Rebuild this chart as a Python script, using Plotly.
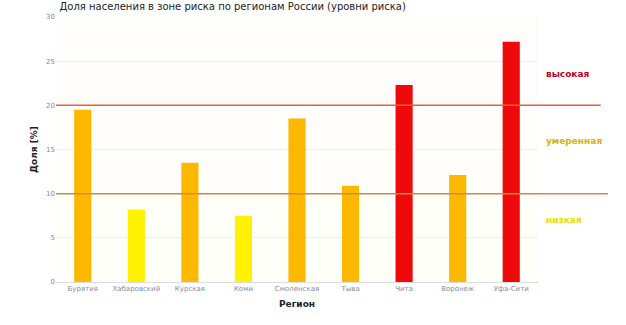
import plotly.graph_objects as go

# Regions and their share (%)
regions = ["Бурятия", "Хабаровский", "Курская", "Коми", "Смоленская",
           "Тыва", "Чита", "Воронеж", "Уфа-Сити"]
shares = [19.5, 8.2, 13.5, 7.5, 18.5, 10.9, 22.3, 12.1, 27.2]

# Risk thresholds and zone labels
low_threshold = 10
high_threshold = 20
zone_names = ["высокая", "умеренная", "низкая"]
zone_label_y = [23.6, 16.0, 7.0]
y_ticks = [0, 5, 10, 15, 20, 25, 30]

RED = "#EE0A0A"
ORANGE = "#FFB800"
YELLOW = "#FFF200"


def zone_color(v):
    if v > high_threshold:
        return RED
    if v >= low_threshold:
        return ORANGE
    return YELLOW


fig = go.Figure()
fig.add_trace(go.Bar(
    x=regions,
    y=shares,
    marker=dict(color=[zone_color(v) for v in shares], line=dict(width=0)),
    width=0.32,
    showlegend=False,
))

# Very faint zone shading behind the bars
fig.add_hrect(y0=high_threshold, y1=30, fillcolor="#ffe8ec", opacity=0.15,
              line_width=0, layer="below")
fig.add_hrect(y0=low_threshold, y1=high_threshold, fillcolor="#fff6dc",
              opacity=0.15, line_width=0, layer="below")
fig.add_hrect(y0=0, y1=low_threshold, fillcolor="#fffde0", opacity=0.15,
              line_width=0, layer="below")

# Threshold lines, running into the right margin
fig.add_shape(type="line", xref="paper", yref="y", x0=0, x1=1.13,
              y0=high_threshold, y1=high_threshold,
              line=dict(color="#E8603A", width=1.5))
fig.add_shape(type="line", xref="paper", yref="y", x0=0, x1=1.145,
              y0=low_threshold, y1=low_threshold,
              line=dict(color="#CC8A48", width=1.5))

zone_colors = ["#C4001E", "#D6B400", "#E6E000"]
for name, yv, col in zip(zone_names, zone_label_y, zone_colors):
    fig.add_annotation(xref="paper", yref="y", x=1.012, y=yv,
                       text=f"<b>{name}</b>",
                       showarrow=False, xanchor="left", yanchor="middle",
                       font=dict(size=9, color=col, family="DejaVu Sans"))

fig.update_layout(
    width=626, height=325,
    margin=dict(l=56, r=88, t=17, b=43),
    paper_bgcolor="white",
    plot_bgcolor="white",
    font=dict(family="DejaVu Sans", size=7, color="#777777"),
    bargap=0.68,
    title=dict(
        text="Доля населения в зоне риска по регионам России (уровни риска)",
        x=0.095, xanchor="left", y=1.0, yanchor="top",
        pad=dict(t=3),
        font=dict(size=10, color="#222222", family="DejaVu Sans"),
    ),
)
fig.update_xaxes(
    title=dict(text="<b>Регион</b>", font=dict(size=9, color="#222222"),
               standoff=8),
    tickfont=dict(size=7, color="#8888a0"),
    showgrid=False, showline=True, linecolor="#dddddd", ticks="",
)
fig.update_yaxes(
    title=dict(text="<b>Доля [%]</b>", font=dict(size=9, color="#222222"),
               standoff=6),
    range=[0, 30], tickvals=y_ticks,
    tickfont=dict(size=7, color="#888888"),
    showgrid=True, gridcolor="#efefef", zeroline=False, ticks="",
)

fig.write_html("out.html")
